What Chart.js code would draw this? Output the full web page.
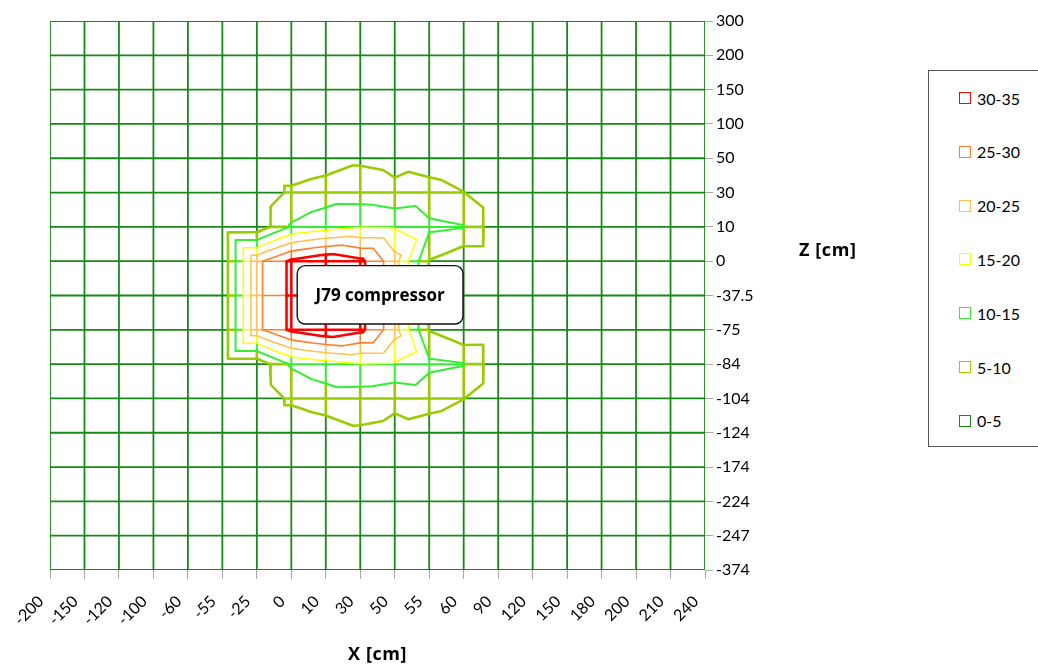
<!DOCTYPE html>
<html>
<head>
<meta charset="utf-8">
<script src="https://cdn.jsdelivr.net/npm/chart.js@4/dist/chart.umd.min.js"></script>
<style>
  html, body { margin: 0; padding: 0; background: #fff; }
  #wrap { position: relative; width: 1038px; height: 670px; overflow: hidden; font-family: Lato, 'Open Sans', sans-serif; color: #000; }
  #chart { position: absolute; left: 0; top: 0; }
  .ax-title { position: absolute; font-family: 'Open Sans', sans-serif; font-weight: bold; font-size: 18px; letter-spacing: 0.6px; white-space: nowrap; }
  #z-title { left: 799px; top: 237px; }
  #x-title { left: 348px; top: 641px; }
  #legend { position: absolute; left: 928px; top: 70px; width: 140px; height: 377px; border: 1px solid #555; box-sizing: border-box; background: #fff; }
  .lg-item { position: absolute; left: 30px; height: 18px; display: flex; align-items: center; font-size: 16px; }
  .lg-box { width: 10px; height: 10px; border: 1.6px solid; margin-right: 6px; background: #fff; }
</style>
</head>
<body>
<div id="wrap">
  <canvas id="chart" width="1038" height="670"></canvas>
  <div id="z-title" class="ax-title">Z [cm]</div>
  <div id="x-title" class="ax-title">X [cm]</div>
  <div id="legend"></div>
</div>
<script>
// categories along each axis
const xLabels = ['-200','-150','-120','-100','-60','-55','-25','0','10','30','50','55','60','90','120','150','180','200','210','240'];
const zLabels = ['300','200','150','100','50','30','10','0','-37.5','-75','-84','-104','-124','-174','-224','-247','-374'];

// bands, lowest first
const bandLabels = ['0-5','5-10','10-15','15-20','20-25','25-30','30-35'];
const levels     = [5, 10, 15, 20, 25, 30];

// value at every grid node, one row per Z category (top to bottom), one column per X category
const zValues = [
  [1,1,1,1,1,1,1,1,1,1,1,1,1,1,1,1,1,1,1,1],
  [1,1,1,1,1,1,1,1,1,1,1,1,1,1,1,1,1,1,1,1],
  [1,1,1,1,1,1,1,1,1,1,1,1,1,1,1,1,1,1,1,1],
  [1,1,1,1,1,1,1,1,1,1,1,1,1,1,1,1,1,1,1,1],
  [1,1,1,1,1,1,1,1,2.3,4.3,3.7,2.5,1.5,1,1,1,1,1,1,1],
  [1,1,1,1,1,1,1.2,6,7.7,7.5,6,7,5.1,1,1,1,1,1,1,1],
  [1,1,1,1,1,1.4,1.5,10.6,13,14.8,14.6,11,10.2,1.2,1,1,1,1,1,1],
  [1,1,1,1,1,1.4,23.8,31,34,31.3,22,4.7,0.9,1,1,1,1,1,1,1],
  [1,1,1,1,1,1.4,23.8,31,34.5,31,22,4.7,0.8,1,1,1,1,1,1,1],
  [1,1,1,1,1,1.4,23.8,31,34,31.3,22,4.7,0.9,1,1,1,1,1,1,1],
  [1,1,1,1,1,1.4,1.5,10.6,13,14.8,14.6,11,10.2,1.2,1,1,1,1,1,1],
  [1,1,1,1,1,1,1.2,6,7.7,7.5,6,7,5.1,1,1,1,1,1,1,1],
  [1,1,1,1,1,1,1,1,2.3,4.3,3.7,2.5,1.5,1,1,1,1,1,1,1],
  [1,1,1,1,1,1,1,1,1,1,1,1,1,1,1,1,1,1,1,1],
  [1,1,1,1,1,1,1,1,1,1,1,1,1,1,1,1,1,1,1,1],
  [1,1,1,1,1,1,1,1,1,1,1,1,1,1,1,1,1,1,1,1],
  [1,1,1,1,1,1,1,1,1,1,1,1,1,1,1,1,1,1,1,1]
];

// look
const bandColors = ['#168a16','#99cc00','#33ee33','#ffff00','#ffc04d','#ff7f2a','#ff0000'];
const bandWidths = [1.8, 2.6, 2, 1.5, 1.5, 1.6, 2.6];
const FONT = 'Lato, "Open Sans", sans-serif';

function bandOf(v) {
  let b = 0;
  levels.forEach(l => { if (v >= l) b++; });
  return b;
}

// wireframe: every grid edge, cut where it crosses a level, each piece in its band colour
const meshPts = bandColors.map(() => []);
function addEdge(x0, y0, v0, x1, y1, v1) {
  const ts = [0, 1];
  levels.forEach(l => { if ((l - v0) * (l - v1) < 0) ts.push((l - v0) / (v1 - v0)); });
  ts.sort((a, b) => a - b);
  for (let k = 0; k < ts.length - 1; k++) {
    const tm = (ts[k] + ts[k + 1]) / 2;
    const b = bandOf(v0 + tm * (v1 - v0));
    const xa = x0 + ts[k] * (x1 - x0), ya = y0 + ts[k] * (y1 - y0);
    const xb = x0 + ts[k + 1] * (x1 - x0), yb = y0 + ts[k + 1] * (y1 - y0);
    meshPts[b].push({x: xa, y: ya}, {x: xb, y: yb}, {x: xb, y: null});
  }
}

// contour lines: each cell split in 4 triangles round its centre
const contourPts = levels.map(() => []);
function addTri(p) {
  levels.forEach((L, li) => {
    const hit = [];
    for (let k = 0; k < 3; k++) {
      const a = p[k], b = p[(k + 1) % 3];
      if ((a.v - L) * (b.v - L) < 0) {
        const t = (L - a.v) / (b.v - a.v);
        hit.push({x: a.x + t * (b.x - a.x), y: a.y + t * (b.y - a.y)});
      }
    }
    if (hit.length === 2) contourPts[li].push(hit[0], hit[1], {x: hit[1].x, y: null});
  });
}

const nRows = zValues.length, nCols = xLabels.length;
for (let r = 0; r < nRows; r++) {
  for (let c = 0; c < nCols; c++) {
    if (c < nCols - 1) addEdge(c, r, zValues[r][c], c + 1, r, zValues[r][c + 1]);
    if (r < nRows - 1) addEdge(c, r, zValues[r][c], c, r + 1, zValues[r + 1][c]);
  }
}
for (let r = 0; r < nRows - 1; r++) {
  for (let c = 0; c < nCols - 1; c++) {
    const tl = {x: c,     y: r,     v: zValues[r][c]};
    const tr = {x: c + 1, y: r,     v: zValues[r][c + 1]};
    const bl = {x: c,     y: r + 1, v: zValues[r + 1][c]};
    const br = {x: c + 1, y: r + 1, v: zValues[r + 1][c + 1]};
    const cv = Math.max((tl.v + br.v) / 2, (tr.v + bl.v) / 2);
    const ce = {x: c + 0.5, y: r + 0.5, v: cv};
    addTri([tl, tr, ce]);
    addTri([tr, br, ce]);
    addTri([br, bl, ce]);
    addTri([bl, tl, ce]);
  }
}

const datasets = [];
meshPts.forEach((pts, b) => datasets.push({
  data: pts, borderColor: bandColors[b], borderWidth: bandWidths[b], order: 2
}));
contourPts.forEach((pts, li) => datasets.push({
  data: pts, borderColor: bandColors[li + 1], borderWidth: bandWidths[li + 1], order: 1
}));

// rounded label box over the compressor position
const labelBox = {
  id: 'labelBox',
  afterDatasetsDraw(chart) {
    const {ctx, scales: {x, y}} = chart;
    const l = x.getPixelForValue(7.17), r = x.getPixelForValue(11.98);
    const t = y.getPixelForValue(7.13), b = y.getPixelForValue(8.83);
    const rad = 8;
    ctx.save();
    ctx.beginPath();
    ctx.moveTo(l + rad, t);
    ctx.lineTo(r - rad, t); ctx.arcTo(r, t, r, t + rad, rad);
    ctx.lineTo(r, b - rad); ctx.arcTo(r, b, r - rad, b, rad);
    ctx.lineTo(l + rad, b); ctx.arcTo(l, b, l, b - rad, rad);
    ctx.lineTo(l, t + rad); ctx.arcTo(l, t, l + rad, t, rad);
    ctx.closePath();
    ctx.fillStyle = '#fff'; ctx.fill();
    ctx.lineWidth = 1.4; ctx.strokeStyle = '#111'; ctx.stroke();
    ctx.fillStyle = '#000';
    ctx.font = 'bold 17px "Open Sans", sans-serif';
    ctx.textAlign = 'center'; ctx.textBaseline = 'middle';
    ctx.fillText('J79 compressor', (l + r) / 2, (t + b) / 2 + 1);
    ctx.restore();
  }
};

new Chart(document.getElementById('chart').getContext('2d'), {
  type: 'scatter',
  data: { datasets },
  options: {
    responsive: false,
    animation: false,
    events: [],
    showLine: true,
    spanGaps: false,
    layout: { padding: { left: 50, top: 21, right: 273, bottom: 0 } },
    elements: {
      point: { radius: 0, hoverRadius: 0 },
      line: { tension: 0, borderCapStyle: 'round', borderJoinStyle: 'round', fill: false }
    },
    plugins: { legend: { display: false }, tooltip: { enabled: false } },
    scales: {
      x: {
        type: 'linear', min: 0, max: nCols - 1, position: 'bottom',
        afterFit: s => { s.height = 100; },
        ticks: {
          stepSize: 1, autoSkip: false, minRotation: 45, maxRotation: 45,
          padding: 13, labelOffset: -9,
          color: '#000', font: { family: FONT, size: 16 },
          callback: v => xLabels[v]
        },
        grid: { drawOnChartArea: false, drawTicks: true, tickLength: 9, color: '#a8a8a8' },
        border: { display: false }
      },
      y: {
        type: 'linear', min: 0, max: nRows - 1, reverse: true, position: 'right',
        afterFit: s => { s.width = 60; },
        ticks: {
          stepSize: 1, autoSkip: false, padding: 3,
          color: '#000', font: { family: FONT, size: 16 },
          callback: v => zLabels[v]
        },
        grid: { drawOnChartArea: false, drawTicks: true, tickLength: 8, color: '#a8a8a8' },
        border: { display: false }
      }
    }
  },
  plugins: [labelBox]
});

// legend, highest band on top
const legend = document.getElementById('legend');
bandLabels.slice().reverse().forEach((lbl, i) => {
  const b = bandLabels.length - 1 - i;
  legend.innerHTML += `<div class="lg-item" style="top:${18 + i * 53.8}px">
    <span class="lg-box" style="border-color:${bandColors[b]}"></span>${lbl}</div>`;
});
</script>
</body>
</html>
